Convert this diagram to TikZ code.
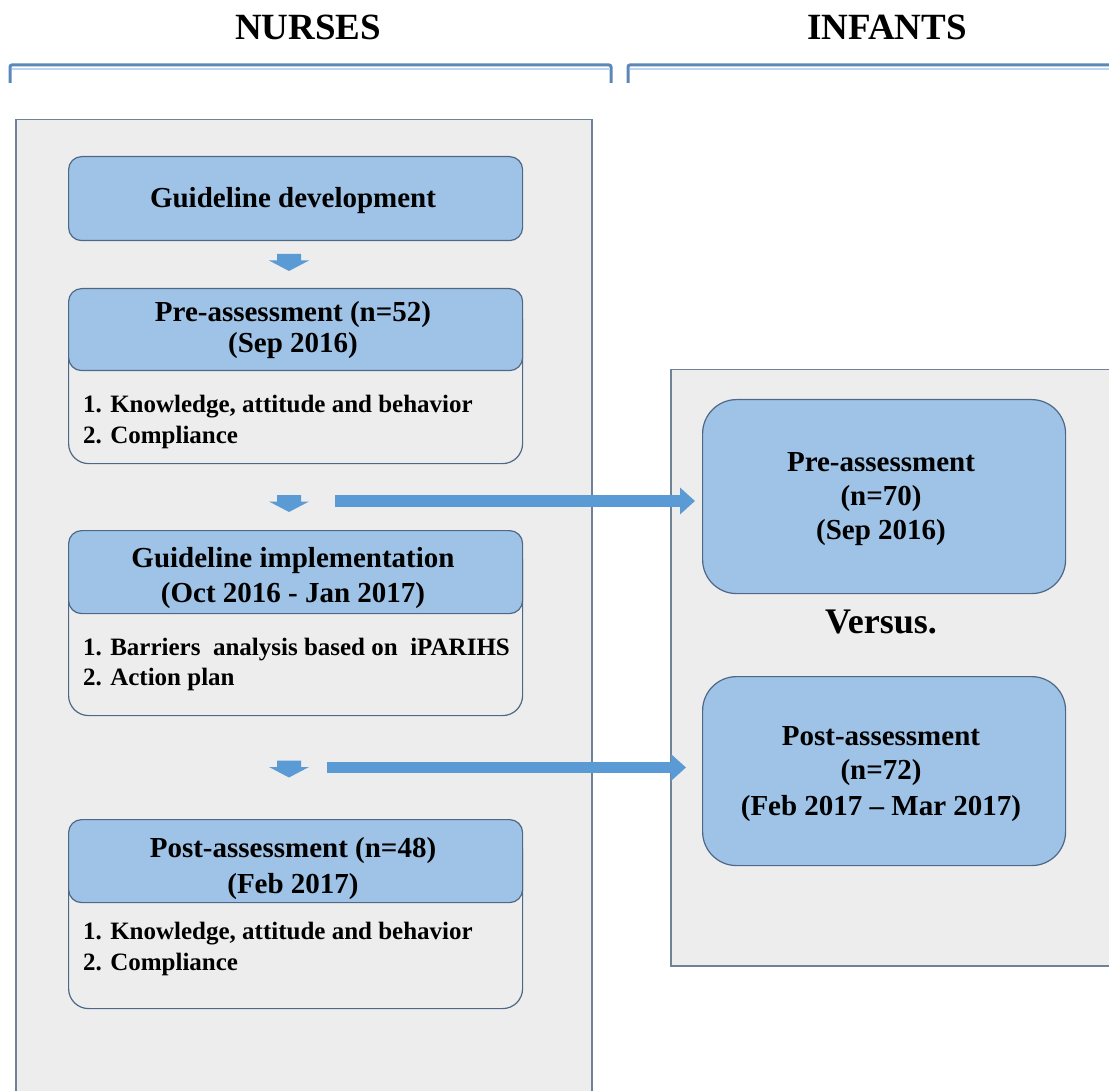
\documentclass[tikz,border=0pt]{standalone}
\usepackage{fontspec}
\setmainfont{Liberation Serif}
\usetikzlibrary{arrows.meta}
\definecolor{panelfill}{RGB}{237,237,237}
\definecolor{panelline}{RGB}{112,130,152}
\definecolor{boxblue}{RGB}{158,195,230}
\definecolor{boxline}{RGB}{78,104,134}
\definecolor{arrowblue}{RGB}{91,155,213}
\definecolor{bracketblue}{RGB}{92,135,185}
\definecolor{bracketlight}{RGB}{190,215,240}
\begin{document}
\begin{tikzpicture}[x=1pt,y=-1pt,
  panel/.style={draw=panelline, fill=panelfill, line width=1.5pt, inner sep=0pt, anchor=north west},
  head/.style={draw=boxline, fill=boxblue, rounded corners=13pt, line width=1.2pt, inner sep=0pt, anchor=north west, minimum width=454pt},
  body/.style={draw=boxline, fill=panelfill, rounded corners=20pt, line width=1.2pt, inner sep=0pt, anchor=north west, minimum width=454pt},
  rbox/.style={draw=boxline, fill=boxblue, rounded corners=34pt, line width=1.2pt, inner sep=0pt, anchor=north west, minimum width=363pt},
  txt/.style={font=\fontsize{29}{33}\selectfont\bfseries, anchor=base, inner sep=0pt},
  item/.style={font=\fontsize{25}{30}\selectfont\bfseries, anchor=base west, inner sep=0pt},
  ttl/.style={font=\fontsize{37}{40}\selectfont\bfseries, anchor=base, inner sep=0pt},
  bigarrow/.style={draw=arrowblue, line width=11.5pt, -{Triangle[width=26pt,length=15pt]}},
  bracket/.style={draw=bracketblue, line width=3pt},
  downarrow/.pic={\fill[arrowblue] (-12,-8.5) -- (12,-8.5) -- (12,-2) -- (20,-2) -- (0,8.5) -- (-20,-2) -- (-12,-2) -- cycle;},
]
\useasboundingbox (0,0) rectangle (1109,1091);
\clip (0,0) rectangle (1109,1091);
\fill[white] (0,0) rectangle (1109,1091);

% titles
\node[ttl] (tn) at (308,40) {NURSES};
\node[ttl] (ti) at (887,40) {INFANTS};

% brackets
\draw[bracketlight, line width=1.5pt] (12,69) -- (609,69);
\draw[bracketlight, line width=1.5pt] (630,69) -- (1115,69);
\draw[bracket, rounded corners=2pt] (10,83) -- (10,65) -- (611,65) -- (611,83);
\draw[bracket, rounded corners=2pt] (628,83) -- (628,65) -- (1115,65);

% panels
\node[panel, minimum width=576pt, minimum height=1000pt] (lp) at (15,119) {};
\node[panel, minimum width=460pt, minimum height=596pt] (rp) at (670,369) {};

% left boxes
\node[head, minimum height=84pt] (gd) at (68,156) {};
\node[txt] (gdt) at (293,208) {Guideline development};

\node[body, minimum height=163pt] (preb) at (68,300) {};
\node[head, minimum height=82pt] (preh) at (68,288) {};
\node[txt] (preh1) at (293,322) {Pre-assessment (n=52)};
\node[txt] (preh2) at (293,353) {(Sep 2016)};
\node[item] (prei1) at (83,413) {1. Knowledge, attitude and behavior};
\node[item] (prei2) at (83,443) {2. Compliance};

\node[body, minimum height=175pt] (impb) at (68,540) {};
\node[head, minimum height=83pt] (imph) at (68,530) {};
\node[txt] (imph1) at (293,567) {Guideline implementation};
\node[txt] (imph2) at (293,602) {(Oct 2016 - Jan 2017)};
\node[item] (impi1) at (83,655) {1. Barriers\ \ analysis based on\ \ iPARIHS};
\node[item] (impi2) at (83,685) {2. Action plan};

\node[body, minimum height=178pt] (postb) at (68,830) {};
\node[head, minimum height=83pt] (posth) at (68,819) {};
\node[txt] (posth1) at (293,857) {Post-assessment (n=48)};
\node[txt] (posth2) at (293,893) {(Feb 2017)};
\node[item] (posti1) at (83,939) {1. Knowledge, attitude and behavior};
\node[item] (posti2) at (83,970) {2. Compliance};

% small down arrows
\pic at (289,262.5) {downarrow};
\pic at (289,503.5) {downarrow};
\pic at (289,769) {downarrow};

% right boxes
\node[rbox, minimum height=194pt] (rpre) at (702,399) {};
\node[txt] (rpre1) at (881,471) {Pre-assessment};
\node[txt] (rpre2) at (881,505) {(n=70)};
\node[txt] (rpre3) at (881,539) {(Sep 2016)};

\node[font=\fontsize{36}{40}\selectfont\bfseries, anchor=base, inner sep=0pt] (vs) at (881,633) {Versus.};

\node[rbox, minimum height=189pt] (rpost) at (702,676) {};
\node[txt] (rpost1) at (881,745) {Post-assessment};
\node[txt] (rpost2) at (881,779) {(n=72)};
\node[txt] (rpost3) at (881,815) {(Feb 2017 – Mar 2017)};

% long arrows
\coordinate (s1) at (335,501);
\coordinate (s2) at (327,767.5);
\draw[bigarrow, shorten >=7pt] (s1) -- (s1 -| rpre.west);
\draw[bigarrow, shorten >=16pt] (s2) -- (s2 -| rpost.west);
\end{tikzpicture}
\end{document}
